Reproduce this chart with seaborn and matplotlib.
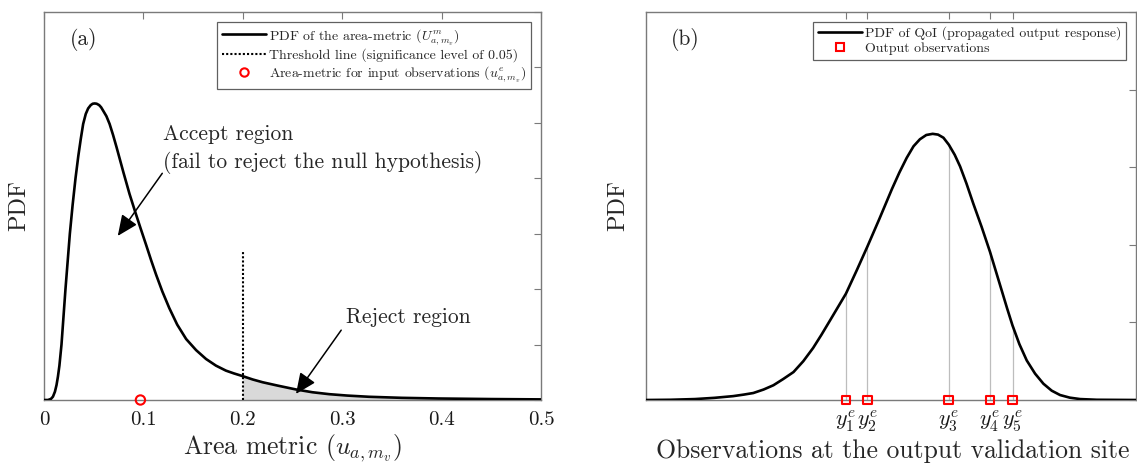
import numpy as np
import matplotlib
matplotlib.use("Agg")
import matplotlib.pyplot as plt
from matplotlib.lines import Line2D
import seaborn as sns

# ---------------- data ----------------
# (a) PDF of the area metric
area_u = [0.0, 0.004, 0.007, 0.009, 0.011, 0.0126, 0.014, 0.0155, 0.0176,
          0.0196, 0.0216, 0.0238, 0.026, 0.0288, 0.0317, 0.0345, 0.037,
          0.0394, 0.042, 0.0444, 0.047, 0.049, 0.051, 0.053, 0.0555, 0.0575,
          0.0595, 0.0628, 0.066, 0.0695, 0.073, 0.0765, 0.080, 0.083, 0.086,
          0.089, 0.092, 0.0973, 0.1027, 0.1078, 0.1128, 0.119, 0.126, 0.134,
          0.143, 0.153, 0.163, 0.173, 0.183, 0.191, 0.2, 0.21, 0.22, 0.235,
          0.2535, 0.27, 0.287, 0.305, 0.327, 0.36, 0.397, 0.45, 0.5]
area_pdf = [0.0, 0.0, 0.02, 0.06, 0.15, 0.27, 0.42, 0.62, 1.0,
            1.5, 2.0, 2.5, 3.0, 3.52, 4.0, 4.4, 4.71,
            4.98, 5.16, 5.26, 5.32, 5.345, 5.35, 5.345, 5.32, 5.28,
            5.22, 5.12, 4.98, 4.78, 4.56, 4.33, 4.10, 3.91, 3.72,
            3.55, 3.38, 3.09, 2.80, 2.52, 2.26, 1.96, 1.66, 1.36,
            1.10, 0.90, 0.74, 0.62, 0.53, 0.48, 0.43, 0.37, 0.32, 0.26,
            0.19, 0.14, 0.105, 0.08, 0.058, 0.039, 0.027, 0.017, 0.011]
threshold_u = 0.2
threshold_top = 2.68
observed_u = [0.097]
u_ticks = [0.0, 0.1, 0.2, 0.3, 0.4, 0.5]
u_tick_labels = ["0", "0.1", "0.2", "0.3", "0.4", "0.5"]

# (b) PDF of the propagated output response
qoi_x = [0, 5, 10, 14, 17.8, 20, 21.9, 24, 26, 28, 30.1, 32.1, 34.1, 35.8,
         37.6, 39.2, 40.8, 43.0, 45.2, 47.6, 50.2, 51.7, 53.2, 54.6, 55.9,
         57.2, 58.5, 59.6, 60.7, 61.8, 63.0, 64.1, 65.4, 66.8, 68.5, 70.2,
         71.4, 72.6, 73.7, 74.8, 76.2, 77.7, 79.4, 81.1, 82.8, 84.5, 86.5,
         88.6, 92, 100]
qoi_pdf = [0, 0.003, 0.012, 0.028, 0.05, 0.07, 0.09, 0.135, 0.19, 0.27, 0.36,
           0.5, 0.67, 0.84, 1.03, 1.2, 1.37, 1.67, 1.98, 2.33, 2.72, 2.93,
           3.12, 3.27, 3.36, 3.415, 3.43, 3.42, 3.38, 3.29, 3.16, 3.01, 2.79,
           2.53, 2.23, 1.91, 1.66, 1.41, 1.18, 0.96, 0.72, 0.51, 0.34, 0.21,
           0.12, 0.064, 0.03, 0.012, 0.003, 0]
obs_x = [40.8, 45.2, 61.8, 70.2, 74.8]
obs_pdf = [1.37, 1.98, 3.29, 1.91, 0.96]
obs_labels = [r"$y_1^e$", r"$y_2^e$", r"$y_3^e$", r"$y_4^e$", r"$y_5^e$"]

# ---------------- style ----------------
sns.set_theme(style="white")
plt.rcParams["font.family"] = ["cmr10", "DejaVu Serif"]
plt.rcParams["mathtext.fontset"] = "cm"
plt.rcParams["axes.formatter.use_mathtext"] = True
plt.rcParams["axes.unicode_minus"] = False

SPINE = "#7a7a7a"
NOTE = 15.5
fig = plt.figure(figsize=(11.37, 4.65), dpi=100)
ax1 = fig.add_axes([44 / 1137, 1 - 400 / 465, 497 / 1137, 388 / 465])
ax2 = fig.add_axes([646 / 1137, 1 - 400 / 465, 490 / 1137, 388 / 465])


def frame(ax):
    for s in ax.spines.values():
        s.set_color(SPINE)
        s.set_linewidth(1.0)
    ax.tick_params(axis="both", which="both", direction="in", length=5,
                   width=0.8, color=SPINE, top=True, right=True,
                   labelsize=15, pad=8, labelcolor="#1a1a1a")


ARROW = dict(arrowstyle="-|>,head_length=0.9,head_width=0.4", color="black",
             lw=1.1, mutation_scale=14, shrinkA=0, shrinkB=0)
LEG = dict(loc="upper right", fontsize=10, frameon=True, fancybox=False,
           framealpha=1, edgecolor="#606060", borderaxespad=0.7,
           labelspacing=0.15, handlelength=3.2, handletextpad=0.2,
           borderpad=0.35)

# ---------------- panel (a) ----------------
u_arr = np.array(area_u)
p_arr = np.array(area_pdf)
mask = u_arr >= threshold_u
ax1.fill_between(u_arr[mask], p_arr[mask], color="#d9d9d9", lw=0, zorder=1)
sns.lineplot(x=area_u, y=area_pdf, ax=ax1, color="black", lw=1.9,
             estimator=None, sort=False, zorder=3)
ax1.vlines(threshold_u, 0, threshold_top, colors="black", linestyles=(0, (1, 1)),
           lw=1.5, zorder=4)
sns.scatterplot(x=observed_u, y=[0] * len(observed_u), ax=ax1, marker="o",
                s=45, color="red", facecolor="none", edgecolor="red",
                linewidth=1.5, zorder=5, clip_on=False)

ax1.set_xlim(0, 0.5)
ax1.set_ylim(0, 7)
ax1.set_xticks(u_ticks)
ax1.set_xticklabels(u_tick_labels)
ax1.set_yticks(range(0, 8))
ax1.set_yticklabels([])
frame(ax1)
ax1.set_xlabel(r"Area metric ($u_{a,m_v}$)", fontsize=18.5)
ax1.set_ylabel("PDF", fontsize=17.5)
ax1.xaxis.set_label_coords(0.5, -0.082)
ax1.yaxis.set_label_coords(-0.028, 0.5)

ax1.text(0.026, 6.5, "(a)", fontsize=NOTE, va="center", ha="left")
ax1.text(0.1197, 4.80, "Accept region", fontsize=NOTE, va="center", ha="left")
ax1.text(0.1197, 4.29, "(fail to reject the null hypothesis)", fontsize=NOTE,
         va="center", ha="left")
ax1.annotate("", xy=(0.0742, 2.96), xytext=(0.119, 4.09), arrowprops=ARROW)
ax1.text(0.304, 1.50, "Reject region", fontsize=NOTE, va="center", ha="left")
ax1.annotate("", xy=(0.2535, 0.11), xytext=(0.299, 1.26), arrowprops=ARROW)

h1 = [Line2D([], [], color="black", lw=1.9),
      Line2D([], [], color="black", lw=1.5, ls=(0, (1, 1))),
      Line2D([], [], ls="none", marker="o", ms=6, mfc="none", mec="red", mew=1.5)]
l1 = [r"PDF of the area-metric ($U^m_{a,m_v}$)",
      "Threshold line (significance level of 0.05)",
      r"Area-metric for input observations ($u^e_{a,m_v}$)"]
leg1 = ax1.legend(h1, l1, **LEG)
leg1.get_frame().set_linewidth(0.9)

# ---------------- panel (b) ----------------
ax2.vlines(obs_x, 0, obs_pdf, colors="#bdbdbd", lw=0.9, zorder=2)
sns.lineplot(x=qoi_x, y=qoi_pdf, ax=ax2, color="black", lw=1.9,
             estimator=None, sort=False, zorder=3)
sns.scatterplot(x=obs_x, y=[0] * len(obs_x), ax=ax2, marker="s", s=40,
                color="red", facecolor="none", edgecolor="red", linewidth=1.5,
                zorder=5, clip_on=False)

ax2.set_xlim(0, 100)
ax2.set_ylim(0, 5)
ax2.set_xticks(obs_x)
ax2.set_xticklabels(obs_labels)
ax2.set_yticks(range(0, 6))
ax2.set_yticklabels([])
frame(ax2)
ax2.tick_params(axis="x", labelsize=16, pad=6)
ax2.set_xlabel("Observations at the output validation site", fontsize=18.5)
ax2.set_ylabel("PDF", fontsize=17.5)
ax2.xaxis.set_label_coords(0.504, -0.1)
ax2.yaxis.set_label_coords(-0.035, 0.5)

ax2.text(5.1, 4.64, "(b)", fontsize=NOTE, va="center", ha="left")

h2 = [Line2D([], [], color="black", lw=1.9),
      Line2D([], [], ls="none", marker="s", ms=5.5, mfc="none", mec="red", mew=1.5)]
l2 = ["PDF of QoI (propagated output response)", "Output observations"]
leg2 = ax2.legend(h2, l2, **LEG)
leg2.get_frame().set_linewidth(0.9)

fig.savefig("out.png", dpi=100)
